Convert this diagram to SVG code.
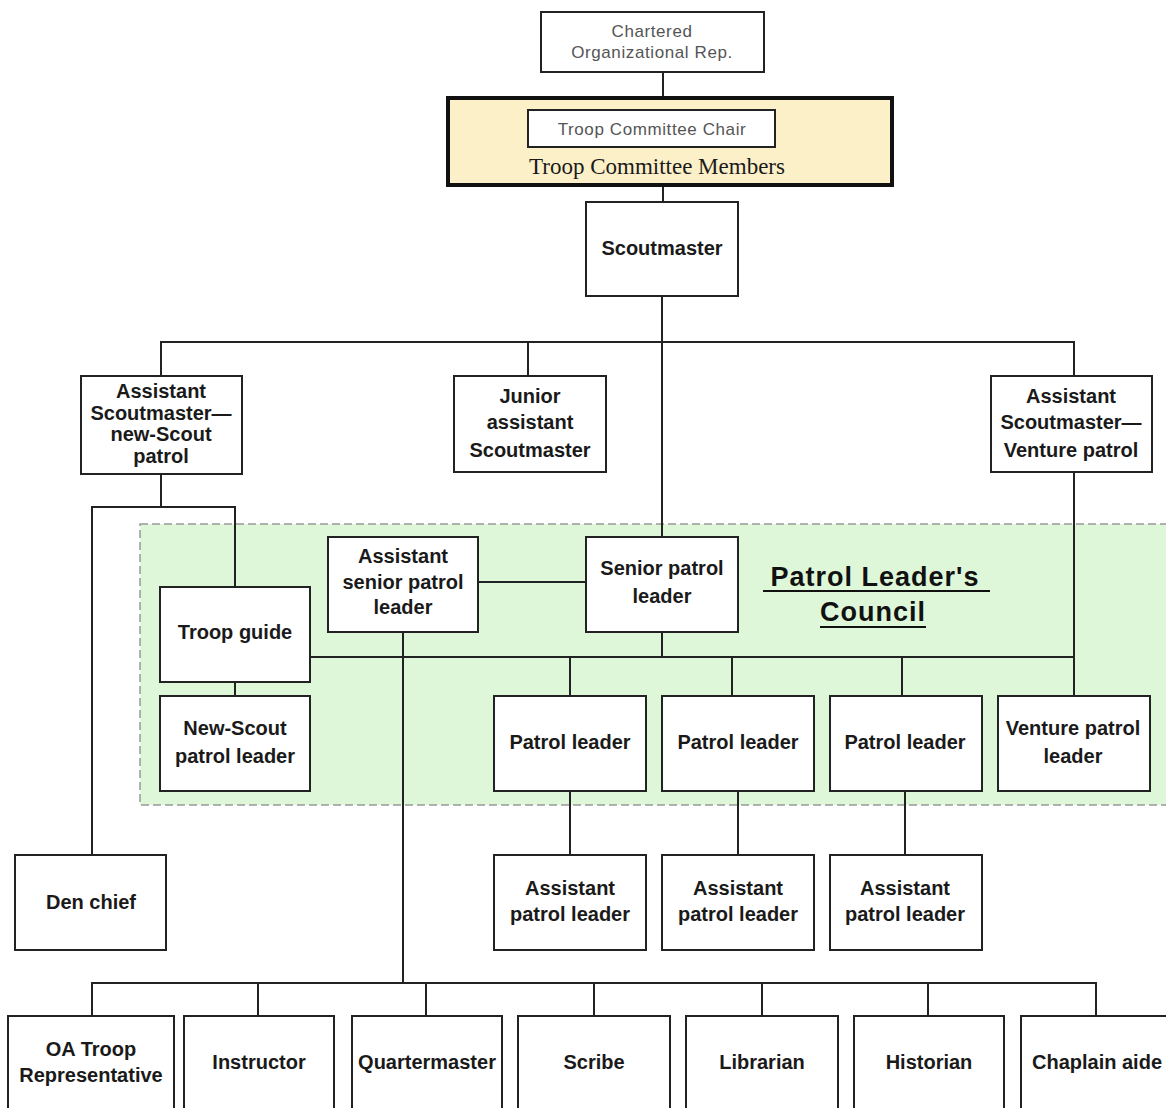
<svg xmlns="http://www.w3.org/2000/svg" width="1166" height="1108" viewBox="0 0 1166 1108">
<style>
.bg{fill:#fff}
.box{fill:#fff;stroke:#222;stroke-width:2}
.t{font-family:"Liberation Sans",Arial,sans-serif;font-weight:bold;font-size:20px;fill:#1a1a1a;text-anchor:middle;dominant-baseline:central}
.g{font-family:"Liberation Sans",Arial,sans-serif;font-size:17px;letter-spacing:0.6px;fill:#555;text-anchor:middle;dominant-baseline:central}
.s{font-family:"Liberation Serif","Times New Roman",serif;font-size:23px;fill:#1a1a1a;text-anchor:middle;dominant-baseline:central}
.c{font-family:"Liberation Sans",Arial,sans-serif;font-weight:bold;font-size:27px;letter-spacing:1px;fill:#111;text-anchor:middle;dominant-baseline:central}
.ln{fill:none;stroke:#222;stroke-width:2}
</style>
<rect class="bg" x="0" y="0" width="1166" height="1108"/>
<g id="plc-region">
<rect x="140" y="524" width="1040" height="281" fill="#ddf7d8" stroke="#9a9a9a" stroke-width="1.5" stroke-dasharray="8,4"/>
<text class="c" x="875" y="577">Patrol Leader's</text>
<text class="c" x="873" y="612">Council</text>
<line x1="763" y1="591" x2="990" y2="591" stroke="#111" stroke-width="2"/>
<line x1="820" y1="627" x2="926" y2="627" stroke="#111" stroke-width="2"/>
</g>
<g id="connectors">
<path class="ln" d="M663 72V97"/>
<path class="ln" d="M663 185V202"/>
<path class="ln" d="M662 296V537"/>
<path class="ln" d="M161 376V342H1074V376"/>
<path class="ln" d="M528 342V376"/>
<path class="ln" d="M161 474V507M92 855V507H235V587"/>
<path class="ln" d="M478 582H586"/>
<path class="ln" d="M235 682V696"/>
<path class="ln" d="M310 657H1074"/>
<path class="ln" d="M662 632V657"/>
<path class="ln" d="M570 657V696M732 657V696M902 657V696"/>
<path class="ln" d="M1074 472V696"/>
<path class="ln" d="M570 791V855M738 791V855M905 791V855"/>
<path class="ln" d="M403 632V983"/>
<path class="ln" d="M92 1016V983H1096V1016M258 983V1016M426 983V1016M594 983V1016M762 983V1016M928 983V1016"/>
</g>
<g id="chartered-rep">
<rect class="box" x="541" y="12" width="223" height="60" stroke-width="1.5"/>
<text class="g" x="652" y="31">Chartered</text>
<text class="g" x="652" y="52">Organizational Rep.</text>
</g>
<g id="troop-committee">
<rect x="448" y="98" width="444" height="87" fill="#fcf0c9" stroke="#111" stroke-width="4"/>
<rect class="box" x="528" y="110" width="247" height="37" stroke-width="1.5"/>
<text class="g" x="652" y="129">Troop Committee Chair</text>
<text class="s" x="657" y="166">Troop Committee Members</text>
</g>
<g id="scoutmaster">
<rect class="box" x="586" y="202" width="152" height="94"/>
<text class="t" x="662" y="248">Scoutmaster</text>
</g>
<g id="asm-new-scout">
<rect class="box" x="81" y="376" width="161" height="98"/>
<text class="t" x="161" y="391">Assistant</text>
<text class="t" x="161" y="413">Scoutmaster—</text>
<text class="t" x="161" y="434">new-Scout</text>
<text class="t" x="161" y="456">patrol</text>
</g>
<g id="junior-asm">
<rect class="box" x="454" y="376" width="152" height="96"/>
<text class="t" x="530" y="396">Junior</text>
<text class="t" x="530" y="422">assistant</text>
<text class="t" x="530" y="450">Scoutmaster</text>
</g>
<g id="asm-venture">
<rect class="box" x="991" y="376" width="161" height="96"/>
<text class="t" x="1071" y="396">Assistant</text>
<text class="t" x="1071" y="422">Scoutmaster—</text>
<text class="t" x="1071" y="450">Venture patrol</text>
</g>
<g id="asst-senior-patrol-leader">
<rect class="box" x="328" y="537" width="150" height="95"/>
<text class="t" x="403" y="556">Assistant</text>
<text class="t" x="403" y="582">senior patrol</text>
<text class="t" x="403" y="607">leader</text>
</g>
<g id="senior-patrol-leader">
<rect class="box" x="586" y="537" width="152" height="95"/>
<text class="t" x="662" y="568">Senior patrol</text>
<text class="t" x="662" y="596">leader</text>
</g>
<g id="troop-guide">
<rect class="box" x="160" y="587" width="150" height="95"/>
<text class="t" x="235" y="632">Troop guide</text>
</g>
<g id="new-scout-patrol-leader">
<rect class="box" x="160" y="696" width="150" height="95"/>
<text class="t" x="235" y="728">New-Scout</text>
<text class="t" x="235" y="756">patrol leader</text>
</g>
<g id="patrol-leader-1">
<rect class="box" x="494" y="696" width="152" height="95"/>
<text class="t" x="570" y="742">Patrol leader</text>
</g>
<g id="patrol-leader-2">
<rect class="box" x="662" y="696" width="152" height="95"/>
<text class="t" x="738" y="742">Patrol leader</text>
</g>
<g id="patrol-leader-3">
<rect class="box" x="830" y="696" width="152" height="95"/>
<text class="t" x="905" y="742">Patrol leader</text>
</g>
<g id="venture-patrol-leader">
<rect class="box" x="998" y="696" width="152" height="95"/>
<text class="t" x="1073" y="728">Venture patrol</text>
<text class="t" x="1073" y="756">leader</text>
</g>
<g id="den-chief">
<rect class="box" x="15" y="855" width="151" height="95"/>
<text class="t" x="91" y="902">Den chief</text>
</g>
<g id="asst-patrol-leader-1">
<rect class="box" x="494" y="855" width="152" height="95"/>
<text class="t" x="570" y="888">Assistant</text>
<text class="t" x="570" y="914">patrol leader</text>
</g>
<g id="asst-patrol-leader-2">
<rect class="box" x="662" y="855" width="152" height="95"/>
<text class="t" x="738" y="888">Assistant</text>
<text class="t" x="738" y="914">patrol leader</text>
</g>
<g id="asst-patrol-leader-3">
<rect class="box" x="830" y="855" width="152" height="95"/>
<text class="t" x="905" y="888">Assistant</text>
<text class="t" x="905" y="914">patrol leader</text>
</g>
<g id="oa-troop-rep">
<rect class="box" x="8" y="1016" width="166" height="110"/>
<text class="t" x="91" y="1049">OA Troop</text>
<text class="t" x="91" y="1075">Representative</text>
</g>
<g id="instructor">
<rect class="box" x="184" y="1016" width="150" height="110"/>
<text class="t" x="259" y="1062">Instructor</text>
</g>
<g id="quartermaster">
<rect class="box" x="352" y="1016" width="150" height="110"/>
<text class="t" x="427" y="1062">Quartermaster</text>
</g>
<g id="scribe">
<rect class="box" x="518" y="1016" width="152" height="110"/>
<text class="t" x="594" y="1062">Scribe</text>
</g>
<g id="librarian">
<rect class="box" x="686" y="1016" width="152" height="110"/>
<text class="t" x="762" y="1062">Librarian</text>
</g>
<g id="historian">
<rect class="box" x="854" y="1016" width="150" height="110"/>
<text class="t" x="929" y="1062">Historian</text>
</g>
<g id="chaplain-aide">
<rect class="box" x="1021" y="1016" width="160" height="110"/>
<text class="t" x="1097" y="1062">Chaplain aide</text>
</g>
</svg>
